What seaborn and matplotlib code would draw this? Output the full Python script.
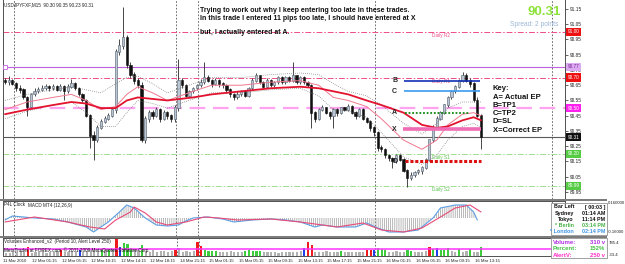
import numpy as np
import pandas as pd
import matplotlib
matplotlib.use("Agg")
import matplotlib.pyplot as plt
import matplotlib.transforms as mtransforms
from matplotlib.patches import Rectangle
import seaborn as sns

# ---------------- data ----------------
symbol_title = "USDJPYFXF,M15  90.30 90.35 90.23 90.31"
open_first = 90.68
closes = [90.67, 90.68, 90.66, 90.63, 90.62, 90.57, 90.51, 90.59, 90.61, 90.62,
          90.63, 90.64, 90.63, 90.64, 90.62, 90.64, 90.61, 90.64, 90.66, 90.63,
          90.59, 90.55, 90.45, 90.32, 90.29, 90.37, 90.41, 90.43, 90.45, 90.49,
          90.87, 90.91, 90.96, 90.78, 90.72, 90.68, 90.65, 90.29, 90.43, 90.47,
          90.45, 90.49, 90.43, 90.47, 90.45, 90.43, 90.50, 90.68, 90.65, 90.58,
          90.61, 90.63, 90.65, 90.67, 90.70, 90.68, 90.66, 90.68, 90.66, 90.65,
          90.62, 90.59, 90.57, 90.59, 90.61, 90.58, 90.63, 90.68, 90.71, 90.67,
          90.64, 90.68, 90.65, 90.67, 90.70, 90.67, 90.70, 90.68, 90.71, 90.67,
          90.70, 90.67, 90.65, 90.47, 90.43, 90.49, 90.50, 90.47, 90.45, 90.49,
          90.47, 90.50, 90.49, 90.51, 90.47, 90.45, 90.49, 90.43, 90.41, 90.37,
          90.34, 90.24, 90.23, 90.19, 90.17, 90.15, 90.19, 90.16, 90.09, 90.04,
          90.06, 90.08, 90.09, 90.11, 90.16, 90.29, 90.37, 90.43, 90.47, 90.52,
          90.57, 90.61, 90.64, 90.68, 90.71, 90.68, 90.66, 90.55, 90.45, 90.31]
highs = [90.70, 90.71, 90.69, 90.67, 90.65, 90.63, 90.58, 90.60, 90.63, 90.64,
         90.65, 90.66, 90.65, 90.66, 90.65, 90.66, 90.65, 90.66, 90.69, 90.67,
         90.64, 90.60, 90.56, 90.46, 90.35, 90.39, 90.43, 90.45, 90.47, 90.51,
         90.89, 90.95, 91.16, 90.98, 90.80, 90.74, 90.70, 90.67, 90.45, 90.49,
         90.49, 90.51, 90.50, 90.49, 90.48, 90.46, 90.52, 90.82, 90.70, 90.66,
         90.62, 90.64, 90.66, 90.69, 90.80, 90.72, 90.69, 90.70, 90.69, 90.67,
         90.66, 90.63, 90.60, 90.61, 90.62, 90.62, 90.64, 90.70, 90.73, 90.72,
         90.68, 90.70, 90.69, 90.68, 90.71, 90.71, 90.71, 90.71, 90.80, 90.72,
         90.71, 90.71, 90.68, 90.66, 90.48, 90.50, 90.52, 90.51, 90.48, 90.50,
         90.50, 90.51, 90.51, 90.53, 90.52, 90.48, 90.50, 90.50, 90.44, 90.42,
         90.38, 90.35, 90.26, 90.24, 90.20, 90.18, 90.20, 90.20, 90.17, 90.10,
         90.08, 90.09, 90.10, 90.12, 90.17, 90.30, 90.39, 90.45, 90.48, 90.53,
         90.58, 90.62, 90.65, 90.69, 90.74, 90.73, 90.70, 90.67, 90.57, 90.46]
lows = [90.66, 90.65, 90.65, 90.61, 90.60, 90.56, 90.45, 90.50, 90.58, 90.60,
        90.61, 90.62, 90.61, 90.62, 90.61, 90.61, 90.55, 90.60, 90.63, 90.62,
        90.58, 90.54, 90.44, 90.24, 90.16, 90.28, 90.36, 90.40, 90.42, 90.44,
        90.47, 90.85, 90.89, 90.76, 90.70, 90.66, 90.63, 90.28, 90.27, 90.41,
        90.43, 90.44, 90.41, 90.42, 90.43, 90.41, 90.41, 90.48, 90.63, 90.57,
        90.57, 90.60, 90.62, 90.64, 90.66, 90.67, 90.64, 90.65, 90.64, 90.63,
        90.60, 90.57, 90.55, 90.56, 90.58, 90.57, 90.57, 90.62, 90.67, 90.66,
        90.63, 90.63, 90.64, 90.64, 90.66, 90.66, 90.66, 90.67, 90.67, 90.66,
        90.66, 90.66, 90.64, 90.37, 90.41, 90.42, 90.48, 90.46, 90.43, 90.37,
        90.45, 90.46, 90.48, 90.48, 90.46, 90.43, 90.44, 90.42, 90.40, 90.35,
        90.32, 90.22, 90.21, 90.17, 90.15, 90.11, 90.14, 90.15, 90.08, 89.98,
        90.03, 90.05, 90.07, 90.07, 90.10, 90.15, 90.28, 90.36, 90.42, 90.46,
        90.51, 90.56, 90.60, 90.63, 90.67, 90.67, 90.64, 90.54, 90.44, 90.23]

ma_idx = [0, 6, 13, 18, 22, 26, 30, 33, 36, 40, 44, 51, 56, 64, 72, 80, 85, 89, 93, 98,
          102, 108, 113, 117, 120, 124, 127, 129]
ma_slow = [90.46, 90.49, 90.52, 90.54, 90.53, 90.50, 90.50, 90.55, 90.57, 90.56,
           90.55, 90.57, 90.59, 90.61, 90.63, 90.64, 90.63, 90.61, 90.59, 90.55,
           90.52, 90.47, 90.39, 90.37, 90.38, 90.42, 90.44, 90.42]
ma_fast = [90.49, 90.54, 90.57, 90.59, 90.55, 90.49, 90.51, 90.59, 90.64, 90.60,
           90.55, 90.61, 90.65, 90.65, 90.67, 90.68, 90.65, 90.57, 90.55, 90.51,
           90.43, 90.29, 90.23, 90.29, 90.39, 90.46, 90.47, 90.45]
band_up = [90.55, 90.59, 90.62, 90.64, 90.62, 90.60, 90.66, 90.70, 90.71, 90.66,
           90.60, 90.66, 90.70, 90.70, 90.72, 90.73, 90.72, 90.66, 90.61, 90.58,
           90.52, 90.40, 90.33, 90.40, 90.50, 90.54, 90.54, 90.54]
band_lo = [90.43, 90.48, 90.52, 90.54, 90.47, 90.38, 90.38, 90.47, 90.55, 90.53,
           90.50, 90.56, 90.60, 90.60, 90.62, 90.63, 90.58, 90.49, 90.48, 90.44,
           90.34, 90.18, 90.13, 90.19, 90.29, 90.38, 90.40, 90.37]

pivot_names = ["Daily R2", "Daily R1", "Daily S1", "Daily S2"]
pivot_levels = [91.00, 90.70, 90.20, 89.99]
purple_level = 90.77
pink_level = 90.50
bid_level = 90.31

trade_labels = ["B", "C", "A", "X", "D"]
trade_levels = [90.68, 90.61, 90.47, 90.36, 90.15]

price_ticks = [91.15, 91.05, 90.95, 90.85, 90.75, 90.65, 90.55, 90.45, 90.35,
               90.25, 90.15, 90.05, 89.95]

macd_idx = [0, 2, 5, 8, 13, 17, 22, 24, 28, 31, 33, 35, 38, 41, 44, 47, 49, 51, 55, 59,
            62, 67, 72, 76, 80, 84, 86, 90, 95, 98, 101, 104, 108, 112, 116, 118, 122, 125, 127, 128]
macd_main = [-0.02, 0.02, 0.01, 0.00, -0.01, -0.04, -0.09, -0.14, -0.04, 0.06,
             0.13, 0.10, 0.00, -0.07, -0.08, -0.07, -0.03, 0.00, 0.01, -0.01,
             -0.04, -0.02, -0.01, -0.02, -0.04, -0.09, -0.07, -0.09, -0.09, -0.05,
             -0.10, -0.14, -0.14, -0.12, 0.00, 0.10, 0.13, 0.13, 0.06, -0.02]
sig_idx = [0, 8, 17, 23, 27, 30, 34, 35, 38, 41, 44, 49, 54, 58, 63, 72, 80, 86, 90, 97,
           102, 108, 113, 118, 122, 126, 129]
macd_signal = [-0.04, 0.01, -0.04, -0.09, -0.11, -0.02, 0.06, 0.11, 0.05, -0.04,
               -0.07, -0.04, 0.01, 0.00, -0.02, -0.01, -0.04, -0.07, -0.09, -0.05,
               -0.12, -0.14, -0.10, 0.01, 0.10, 0.13, 0.06]

volumes = [120, 100, 150, 130, 180, 140, 320, 110, 150, 130,
           170, 120, 160, 140, 180, 220, 130, 150, 170, 140,
           200, 160, 190, 200, 170, 180, 230, 200, 260, 250,
           640, 330, 470, 420, 300, 250, 220, 380, 180, 150,
           200, 160, 170, 190, 150, 180, 230, 300, 160, 180,
           150, 170, 500, 350, 200, 180, 190, 170, 150, 160,
           140, 170, 150, 160, 140, 180, 200, 170, 190, 180,
           130, 150, 140, 160, 120, 150, 140, 130, 160, 150,
           170, 300, 520, 400, 160, 150, 140, 170, 150, 160,
           140, 170, 140, 150, 130, 160, 140, 150, 200, 220,
           230, 300, 260, 200, 160, 150, 170, 140, 160, 200,
           180, 150, 140, 160, 170, 330, 250, 300, 220, 200,
           280, 170, 160, 250, 160, 170, 260, 150, 160, 310]
vol_kind = ("kkkkkkrkkk" "kkkkkrkkkk" "bkkkkkgkgk" "rbgggkkgkk" "kkkkkkrkkk"
            "kkrrggggkk" "kkkkkggggg" "kkkkkkkkkk" "kbrrkkkkkk" "kgkkkkkkrr"
            "bgggkkkkkg" "gkkkkrgbgg" "gkkgkkgkkg")
alert_level = 250

time_labels = ["11 Mar 2010", "12 Mar 01:15", "12 Mar 05:15", "12 Mar 10:15", "12 Mar 14:15",
               "12 Mar 18:15", "14 Mar 21:15", "15 Mar 01:15", "15 Mar 05:15", "15 Mar 09:15",
               "15 Mar 13:15", "15 Mar 17:15", "15 Mar 21:15", "16 Mar 01:15", "16 Mar 05:15",
               "16 Mar 09:15", "16 Mar 13:15"]
day_separators = [2.4, 46.3, 52.3, 100.3, 148.2]

notes = ["Trying to work out why I keep entering too late in these trades.",
         "In this trade I entered 11 pips too late, I should have entered at X",
         "but, I actually entered at A."]
key_lines = ["Key:", "A= Actual EP", "B=TP1", "C=TP2", "D=SL", "X=Correct EP"]
clock_names = ["Bar Left", "Sydney", "Tokyo", "* Berlin", "* London"]
clock_values = ["[ 00:03 ]", "01:14 AM", "11:14 PM", "03:14 PM", "02:14 PM"]
vol_info_names = ["Volume:", "Percent:", "AlertV:"]
vol_info_values = ["310 v", "152%", "250 v"]

# ---------------- figure ----------------
sns.set_style("white")
plt.rcParams['font.family'] = ['Liberation Sans', 'DejaVu Sans']
plt.rcParams['hatch.linewidth'] = 0.5

W, H = 625, 264
fig = plt.figure(figsize=(W / 100, H / 100), dpi=100)
fig.patch.set_facecolor('white')


def pax(x0, y0, x1, y1):
    a = fig.add_axes([x0 / W, 1 - y1 / H, (x1 - x0) / W, (y1 - y0) / H])
    a.set_facecolor('white')
    for s in a.spines.values():
        s.set_color('#505050')
        s.set_linewidth(0.7)
    return a


def ftext(x, y, s, **kw):
    kw.setdefault('va', 'center')
    fig.text(x / W, 1 - y / H, s, **kw)


XL = (-0.54, 151.76)
ax = pax(3, 0, 565, 198.5)
axm = pax(3, 200.5, 565, 235.5)
axv = pax(3, 237.5, 565, 256)

# ---- main price panel ----
n = len(closes)
opens = [open_first] + closes[:-1]
df = pd.DataFrame(dict(i=np.arange(n), o=opens, h=highs, l=lows, c=closes))
up = df.c >= df.o
ax.vlines(df.i, df.l, df.h, color='#2a2a2a', lw=0.6, zorder=3)
ax.bar(df.i[up], (df.c - df.o)[up] + 0.004, bottom=df.o[up], width=0.6,
       color='#b9c6d4', edgecolor='#5f6a76', lw=0.45, zorder=4)
ax.bar(df.i[~up], (df.o - df.c)[~up] + 0.004, bottom=df.c[~up], width=0.6,
       color='#101010', edgecolor='#101010', lw=0.4, zorder=4)

ma = pd.DataFrame(dict(i=ma_idx, slow=ma_slow, fast=ma_fast, up=band_up, lo=band_lo))
sns.lineplot(data=ma, x='i', y='up', ax=ax, color='#777777', lw=0.55, linestyle=':', zorder=5)
sns.lineplot(data=ma, x='i', y='lo', ax=ax, color='#777777', lw=0.55, linestyle=':', zorder=5)
sns.lineplot(data=ma, x='i', y='fast', ax=ax, color='#f07890', lw=0.7, zorder=5)
sns.lineplot(data=ma, x='i', y='slow', ax=ax, color='#e3132f', lw=1.3, zorder=6)

for name, val in zip(pivot_names, pivot_levels):
    is_r = 'R' in name
    col = '#ee4c88' if is_r else '#9ee08e'
    tcol = '#ee4c88' if is_r else '#5cc24c'
    ax.axhline(val, color=col, lw=0.7, ls=(0, (6, 2, 1.5, 2)), zorder=2)
    ax.text(115.7, val - 0.008, name, color=tcol, fontsize=3.4, va='top', ha='left', zorder=7)

ax.axhline(purple_level, color='#c060dc', lw=0.8, zorder=2)
ax.plot([-0.1], [purple_level], marker='s', ms=2.2, mfc='white', mec='#c060dc', mew=0.6,
        zorder=7, clip_on=False)
ax.axhline(pink_level, color='#ffa3f0', lw=1.6, ls=(0, (7, 3.5)), zorder=2)
ax.axhline(bid_level, color='#5a5a5a', lw=0.8, zorder=2)

for v in day_separators:
    for a in (ax, axm, axv):
        a.axvline(v, color='#555555', lw=0.6, ls=(0, (2, 2)), zorder=1)

trade_style = {
    "B": dict(color='#1232b4', lw=1.2, ls='-', x0=108.0, x1=128.8),
    "C": dict(color='#3a9cf0', lw=1.2, ls='-', x0=108.0, x1=128.8),
    "A": dict(color='#118811', lw=1.3, ls=(0, (1, 1)), x0=108.5, x1=126.0),
    "X": dict(color='#f06cb4', lw=2.6, ls='-', x0=107.8, x1=129.0),
    "D": dict(color='#dd1111', lw=2.2, ls=(0, (1, 0.6)), x0=108.5, x1=129.0),
}
for lab, val in zip(trade_labels, trade_levels):
    st = trade_style[lab]
    ax.hlines(val, st['x0'], st['x1'], color=st['color'], lw=st['lw'], linestyles=[st['ls']], zorder=8)
    ax.text(105.6, val, lab, fontsize=5.0, fontweight='bold', ha='center', va='center', zorder=9)

ax.set_xlim(*XL)
ax.set_ylim(89.907, 91.209)
ax.yaxis.tick_right()
ax.set_yticks(price_ticks)
ax.set_yticklabels([f"{t:.2f}" for t in price_ticks])
ax.tick_params(axis='y', labelsize=3.4, length=2, width=0.5, pad=1.5, colors='#222222')
ax.set_xticks([])
ax.set_xlabel('')
ax.set_ylabel('')
ax.spines['top'].set_visible(False)

tr = mtransforms.blended_transform_factory(ax.transAxes, ax.transData)
boxes = [(pivot_levels[0], '#ee1111', 'white'), (purple_level, '#dcaaf0', '#7a2a9a'),
         (pivot_levels[1], '#ee1111', 'white'), (pink_level, '#ff22ee', 'white'),
         (bid_level, '#111111', 'white'), (pivot_levels[2], '#55cc44', 'white'),
         (pivot_levels[3], '#55cc44', 'white')]
for val, fc, tc in boxes:
    ax.text(1.005, val, f"{val:.2f}", transform=tr, fontsize=3.4, color=tc, ha='left', va='center',
            bbox=dict(boxstyle='square,pad=0.35', fc=fc, ec='none'), zorder=10)

# ---- MACD panel ----
mdf = pd.DataFrame({'i': macd_idx, 'v': macd_main})
sdf = pd.DataFrame({'i': sig_idx, 'v': macd_signal})
axm.fill_between(mdf.i, mdf.v, 0, facecolor='none', edgecolor='#9c9c9c', hatch='||||||||', lw=0)
sns.lineplot(data=mdf, x='i', y='v', ax=axm, color='#5b9fe3', lw=0.8)
sns.lineplot(data=sdf, x='i', y='v', ax=axm, color='#e84c78', lw=0.8)
axm.set_xlim(*XL)
axm.set_ylim(-0.175, 0.175)
axm.set_xticks([]); axm.set_yticks([])
axm.set_xlabel(''); axm.set_ylabel('')

# ---- volume panel ----
vdf = pd.DataFrame({'i': np.arange(len(volumes)), 'v': volumes, 'k': list(vol_kind[:len(volumes)])})
cmap = {'k': '#b2b2b2', 'g': '#3ccc3c', 'r': '#ee1c1c', 'b': '#2040e8'}
axv.bar(vdf.i, vdf.v, width=0.6, color=vdf.k.map(cmap), lw=0)
axv.axhline(alert_level, color='#ff33ff', lw=1.1)
axv.set_xlim(*XL)
axv.set_ylim(0, 666)
label_idx = [8 * k - 0.8 for k in range(len(time_labels))]
axv.set_xticks(label_idx)
axv.set_xticklabels([])
axv.tick_params(axis='x', length=2, width=0.5, colors='#333333')
axv.set_yticks([])

trv = mtransforms.blended_transform_factory(axv.transData, fig.transFigure)
for xi, s in zip(label_idx, time_labels):
    axv.text(xi, 1 - 260.5 / H, s, transform=trv, fontsize=3.1, ha='left', va='center', color='#222222')

# ---- separators ----
for y0 in (198.5, 235.5):
    fig.add_artist(Rectangle((0, 1 - (y0 + 2) / H), 607 / W, 2 / H, transform=fig.transFigure,
                             fc='#7c7c7c', ec='none'))

# ---- texts ----
ftext(4, 4.5, symbol_title, fontsize=3.3, color='#222222')
for s, y in zip(notes, [10, 18.5, 32.5]):
    ftext(200.5, y, s, fontsize=5.0, fontweight='bold', color='#111111')
for s, y in zip(key_lines, [89, 97.2, 105.4, 113.6, 121.8, 130]):
    ftext(493, y, s, fontsize=5.5, fontweight='bold', color='#111111')
ftext(561, 12, "90.31", fontsize=9.5, fontweight='bold', color='#8ee23a', ha='right')
ftext(558, 24.5, "Spread: 2 points", fontsize=4.8, color='#9bb6d6', ha='right')

ftext(4, 205, "P4L Clock", fontsize=3.3, color='#222222')
ftext(28, 205, "MACD MT4 (12,26,9)", fontsize=3.3, color='#222222')
ftext(4, 241.5, "Volumes Enhanced_v2  (Period 10, Alert Level 250)", fontsize=3.3, color='#222222')
ftext(4, 250.5, "MetaTrader at FOREX.com, \u00a9 2001-2009 MetaQuotes Software Corp.",
      fontsize=3.3, color='#111111')

ftext(608, 203.5, "0.160000", fontsize=3.1, color='#222222')
ftext(608, 232, "-0.16000", fontsize=3.1, color='#222222')
ftext(609, 243, "785.4", fontsize=3.1, color='#222222')
ftext(609, 255, "-33.4", fontsize=3.1, color='#222222')

# clock box
fig.add_artist(Rectangle((551 / W, 1 - 235 / H), 56 / W, 32 / H, transform=fig.transFigure,
                         fc='white', ec='#909090', lw=0.6))
ccols = ['#111111', '#111111', '#111111', '#44b044', '#3b95e8']
for nm, vl, c, y in zip(clock_names, clock_values, ccols, [207, 213.2, 219.4, 225.6, 231.8]):
    ftext(574, y, nm, fontsize=3.9, fontweight='bold', color=c, ha='right')
    ftext(605, y, vl, fontsize=3.9, fontweight='bold', color=c, ha='right')

fig.add_artist(Rectangle((551 / W, 1 - 258 / H), 56 / W, 20 / H, transform=fig.transFigure,
                         fc='white', ec='#909090', lw=0.6))
vcols = ['#b030e0', '#44c044', '#ff30c8']
for nm, vl, c, y in zip(vol_info_names, vol_info_values, vcols, [242, 249, 255.5]):
    ftext(553, y, nm, fontsize=4.3, fontweight='bold', color=c, ha='left')
    ftext(605, y, vl, fontsize=4.3, fontweight='bold', color=c, ha='right')

fig.savefig("out.png", dpi=100, facecolor='white')
